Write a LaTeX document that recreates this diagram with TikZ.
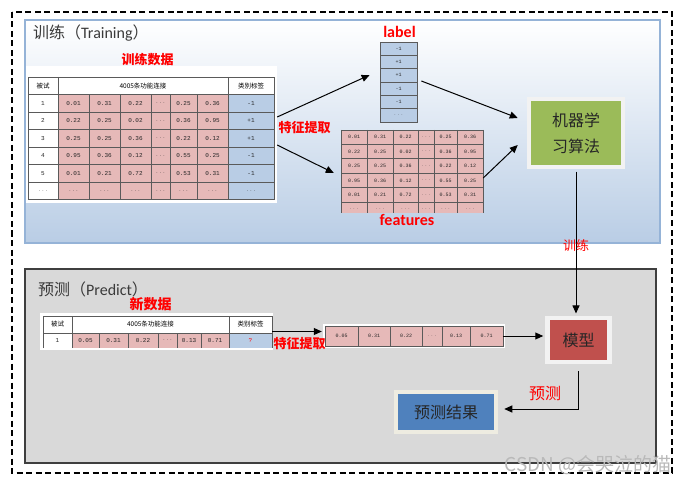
\documentclass[tikz,border=0pt]{standalone}
\usepackage{fontspec}
\newfontfamily\cjk{Noto Sans CJK SC}
\newfontfamily\lat{Carlito}
\newfontfamily\mono{Liberation Mono}
\usetikzlibrary{arrows.meta}
\definecolor{pinkcell}{HTML}{E6B9B8}
\definecolor{bluecell}{HTML}{B9CDE5}
\definecolor{trainblue}{HTML}{B9CDE5}
\definecolor{trainedge}{HTML}{95B3D7}
\definecolor{predfill}{HTML}{D9D9D9}
\definecolor{prededge}{HTML}{3F3F3F}
\definecolor{algogreen}{HTML}{9BBB59}
\definecolor{modelred}{HTML}{C0504D}
\definecolor{resblue}{HTML}{4F81BD}
\definecolor{framegray}{HTML}{F2F2F2}
\definecolor{framecream}{HTML}{EEECE1}
\definecolor{gridline}{HTML}{5A5A5A}
\definecolor{titlegray}{HTML}{3A3A3A}
\newcommand{\cdt}{$\cdots$}
\tikzset{
	outerdash/.style={dashed, dash pattern=on 6pt off 3.5pt, line width=1.3pt},
	arr/.style={-{Triangle[length=8pt, width=7pt]}, line width=1pt},
	cellgrid/.style={draw=gridline, line width=0.7pt},
	panel/.style={fill=white, inner sep=0pt},
	hdr/.style={font=\cjk\fontsize{6.5}{7}\selectfont, inner sep=0pt},
	num/.style={font=\mono\fontsize{6}{7}\selectfont, inner sep=0pt, text=black!85},
	smallnum/.style={num, font=\mono\fontsize{5}{6}\selectfont},
	redtag/.style={text=red, font=\cjk\bfseries\fontsize{13}{13}\selectfont, inner sep=0pt},
	boxtitle/.style={text=titlegray, inner sep=0pt, anchor=west, font=\fontsize{16}{16}\selectfont},
	blockbox/.style={line width=4.5pt, inner sep=0pt, text=black!85, font=\cjk\fontsize{16}{26}\selectfont, align=center}
}
\begin{document}
\begin{tikzpicture}[x=1pt, y=-1pt]
	\useasboundingbox (0,0) rectangle (686,484);
	\draw[outerdash] (12,12) rectangle (672,473);

	% training area
	\shade[top color=white, bottom color=trainblue] (25,20) rectangle (660,243);
	\draw[trainedge, line width=1.5pt] (25,20) rectangle (660,243);
	\node[boxtitle] (traintitle) at (33,33) {{\cjk 训练（}{\lat Training}{\cjk ）}};

	% training data table
	\node[panel, minimum width=251pt, minimum height=137pt] (trainpanel) at (151.5,134.5) {};
	\node[redtag] (traintag) at (147.5,60) {训练数据};
	\fill[pinkcell] (58,94.5) rectangle (228,199.5);
	\fill[bluecell] (228,94.5) rectangle (274,199.5);
	\draw[cellgrid] (28,77) rectangle (274,199.5);
	\foreach \y in {94.5,112,...,182} \draw[cellgrid] (28,\y) -- (274,\y);
	\foreach \x in {58,228} \draw[cellgrid] (\x,77) -- (\x,199.5);
	\foreach \x in {89,120,151,170,197} \draw[cellgrid] (\x,94.5) -- (\x,199.5);
	\node[hdr] (tr-h0) at (43,86) {被试};
	\node[hdr] (tr-h1) at (143,86) {4005条功能连接};
	\node[hdr] (tr-h2) at (251,86) {类别标签};
	\foreach \r/\va/\vb/\vc/\vd/\ve/\lab [count=\i] in {
		1/0.01/0.31/0.22/0.25/0.36/-1,
		2/0.22/0.25/0.02/0.36/0.95/+1,
		3/0.25/0.25/0.36/0.22/0.12/+1,
		4/0.95/0.36/0.12/0.55/0.25/-1,
		5/0.01/0.21/0.72/0.53/0.31/-1,
		\cdt/\cdt/\cdt/\cdt/\cdt/\cdt/\cdt}{
		\pgfmathsetmacro{\yy}{85.75+17.5*\i}
		\node[num] (tr-\i-0) at (43,\yy) {\r};
		\node[num] (tr-\i-1) at (73.5,\yy) {\va};
		\node[num] (tr-\i-2) at (104.5,\yy) {\vb};
		\node[num] (tr-\i-3) at (135.5,\yy) {\vc};
		\node[num] (tr-\i-4) at (160.5,\yy) {\cdt};
		\node[num] (tr-\i-5) at (183.5,\yy) {\vd};
		\node[num] (tr-\i-6) at (212.5,\yy) {\ve};
		\node[num] (tr-\i-7) at (251,\yy) {\lab};
	}

	% label column
	\node[fill=bluecell, draw=gridline, line width=0.7pt, minimum width=37pt, minimum height=80pt, inner sep=0pt] (lblcol) at (398.5,82) {};
	\node[text=red, font=\lat\bfseries\fontsize{16}{16}\selectfont, inner sep=0pt] (lbltag) at (399.5,32) {label};
	\foreach \y in {55.33,68.67,82,95.33,108.67} \draw[cellgrid] (380,\y) -- (417,\y);
	\foreach \v [count=\i] in {-1,+1,+1,-1,-1,\cdt}{
		\pgfmathsetmacro{\yy}{35.33+13.333*\i}
		\node[smallnum] (lb-\i) at (398.5,\yy) {\v};
	}

	% features table
	\node[panel, fill=pinkcell, minimum width=142pt, minimum height=83pt] (featpanel) at (412,171.5) {};
	\node[text=red, font=\lat\bfseries\fontsize{16}{16}\selectfont, inner sep=0pt] (feattag) at (407,220) {features};
	\foreach \y in {130,144.4,158.8,173.2,187.6,202} \draw[cellgrid] (341,\y) -- (483,\y);
	\foreach \x in {341,367,393,418,434,457,483} \draw[cellgrid] (\x,130) -- (\x,213);
	\foreach \va/\vb/\vc/\vd/\ve [count=\i] in {
		0.01/0.31/0.22/0.25/0.36,
		0.22/0.25/0.02/0.36/0.95,
		0.25/0.25/0.36/0.22/0.12,
		0.95/0.36/0.12/0.55/0.25,
		0.01/0.21/0.72/0.53/0.31,
		\cdt/\cdt/\cdt/\cdt/\cdt}{
		\pgfmathsetmacro{\yy}{122.8+14.4*\i}
		\node[smallnum] (ft-\i-1) at (354,\yy) {\va};
		\node[smallnum] (ft-\i-2) at (380,\yy) {\vb};
		\node[smallnum] (ft-\i-3) at (405.5,\yy) {\vc};
		\node[smallnum] (ft-\i-4) at (426,\yy) {\cdt};
		\node[smallnum] (ft-\i-5) at (445.5,\yy) {\vd};
		\node[smallnum] (ft-\i-6) at (470,\yy) {\ve};
	}

	% learning algorithm
	\node[blockbox, fill=algogreen, draw=framegray, minimum width=94pt, minimum height=68pt] (algo) at (576,133) {机器学\\习算法};

	\draw[arr] ([shift={(0,-17.5)}]trainpanel.east) -- ([shift={(-10,-7)}]lblcol.west);
	\draw[arr] ([shift={(0,10.5)}]trainpanel.east) -- ([shift={(-7,1.5)}]featpanel.west);
	\node[redtag] (trainft) at (304.5,128) {特征提取};
	\draw[arr] ([shift={(4,-1)}]lblcol.east) -- ([shift={(-9,-15)}]algo.west);
	\draw[arr] ([shift={(0,6.5)}]featpanel.east) -- ([shift={(-9,12)}]algo.west);

	% predict area
	\fill[predfill] (25,269) rectangle (656,463);
	\draw[prededge, line width=1.2pt] (25,269) rectangle (656,463);
	\node[boxtitle] (predtitle) at (38,289) {{\cjk 预测（}{\lat Predict}{\cjk ）}};

	% new data table
	\node[panel, minimum width=233pt, minimum height=37pt] (newpanel) at (156.5,331.5) {};
	\node[redtag, font=\cjk\bfseries\fontsize{14}{14}\selectfont] (newtag) at (150.5,304) {新数据};
	\fill[pinkcell] (72,333) rectangle (229,348);
	\fill[bluecell] (229,333) rectangle (272,348);
	\draw[cellgrid] (43,348) -- (43,316) -- (272,316) -- (272,348);
	\draw[cellgrid] (43,333) -- (272,333);
	\foreach \x in {72,229} \draw[cellgrid] (\x,316) -- (\x,348);
	\foreach \x in {99,128,158,177,201} \draw[cellgrid] (\x,333) -- (\x,348);
	\node[hdr] (nw-h0) at (57.5,324.5) {被试};
	\node[hdr] (nw-h1) at (150.5,324.5) {4005条功能连接};
	\node[hdr] (nw-h2) at (250.5,324.5) {类别标签};
	\foreach \v/\x [count=\i] in {1/57.5, 0.05/85.5, 0.31/113.5, 0.22/143, \cdt/167.5, 0.13/189, 0.71/215}
		\node[num] (nw-\i) at (\x,340.5) {\v};
	\node[num, text=red] (nw-q) at (250.5,340.5) {?};

	% extracted features of the new sample
	\node[panel, minimum width=182pt, minimum height=24pt] (frow) at (414,336) {};
	\fill[pinkcell] (325,326) rectangle (503,346);
	\draw[cellgrid] (325,326) rectangle (503,346);
	\foreach \x in {358,390,422,442,470} \draw[cellgrid] (\x,326) -- (\x,346);
	\foreach \v/\x [count=\i] in {0.05/341.5, 0.31/374, 0.22/406, \cdt/432, 0.13/456, 0.71/486.5}
		\node[smallnum] (fr-\i) at (\x,336) {\v};

	\draw[arr] ([xshift=-1pt]newpanel.east) -- ([xshift=-1pt]newpanel.east -| frow.west);
	\node[redtag] (predft) at (299.5,344) {特征提取};

	% model and result
	\node[blockbox, fill=modelred, draw=framegray, minimum width=62pt, minimum height=44pt] (model) at (578.5,340) {模型};
	\node[blockbox, fill=resblue, draw=framecream, minimum width=100pt, minimum height=40pt] (result) at (446,412) {预测结果};

	\draw[arr] ([yshift=-2.5pt]algo.south) -- ([yshift=2.3pt]algo.south |- model.north)
		node[pos=0.52, text=red, font=\cjk\fontsize{13}{13}\selectfont, inner sep=0pt] (trainlbl) {训练};
	\draw[arr] ([xshift=-2pt]frow.east) -- ([xshift=-2pt]frow.east -| model.west);
	\draw[arr] ([yshift=-7pt]model.south) |- ([shift={(6,-3)}]result.east);
	\node[text=red, font=\cjk\fontsize{16}{16}\selectfont, inner sep=0pt] (predlbl) at (545,393) {预测};

	\node[anchor=east, text=gray!55, font=\cjk\fontsize{19}{19}\selectfont, inner sep=0pt] (wmark) at (672,465) {CSDN @会哭泣的猫};
\end{tikzpicture}
\end{document}
